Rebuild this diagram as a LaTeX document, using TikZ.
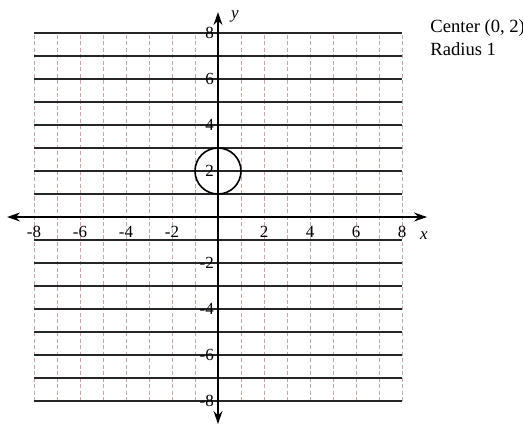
\documentclass[tikz,border=0pt]{standalone}
\usepackage{fontspec}
\setmainfont{Liberation Serif}
\usetikzlibrary{arrows.meta}
\definecolor{gridpink}{RGB}{200,165,165}

\begin{document}
\begin{tikzpicture}[x=0.5cm, y=0.5cm,
  vline/.style={draw=gridpink, line width=0.5pt, dash pattern=on 2.5pt off 1.5pt},
  hline/.style={draw=black!85, line width=0.9pt},
  axis/.style={draw=black, line width=1.1pt, {Stealth[length=8pt, width=5.5pt]}-{Stealth[length=8pt, width=5.5pt]}},
  num/.style={font=\fontsize{10.5}{12}\selectfont, inner sep=1pt}]
 \useasboundingbox (-9.478,-9.174) rectangle (13.261,9.435);
 % grid
 \foreach \x in {-8,...,8}
   \draw[vline] (\x,-8) -- (\x,8);
 \foreach \y in {-8,...,8}
   \draw[hline] (-8,\y) -- (8,\y);
 % axes
 \coordinate (xa) at (-9.17,0);
 \coordinate (xb) at (9.09,0);
 \coordinate (ya) at (0,-9.0);
 \coordinate (yb) at (0,8.91);
 \draw[axis] (xa) -- (xb);
 \draw[axis] (ya) -- (yb);
 \node[num] (xlab) at (8.95,-0.8) {\textit{x}};
 \node[num] (ylab) at (0.74,8.74) {\textit{y}};
 \foreach \v [count=\i] in {-8,-6,-4,-2,2,4,6,8}{
   \node[num] (xl\i) at (\v,-0.65) {\v};
   \node[num, anchor=east] (yl\i) at (-0.1,\v) {\v};
 }
 % circle
 \draw[line width=1pt] (0,2) circle (1);
 \node[anchor=north west, align=left, inner sep=0pt, font=\fontsize{11.5}{14}\selectfont] (info) at (9.22,8.6) {Center (0, 2)\\Radius 1};
\end{tikzpicture}
\end{document}
